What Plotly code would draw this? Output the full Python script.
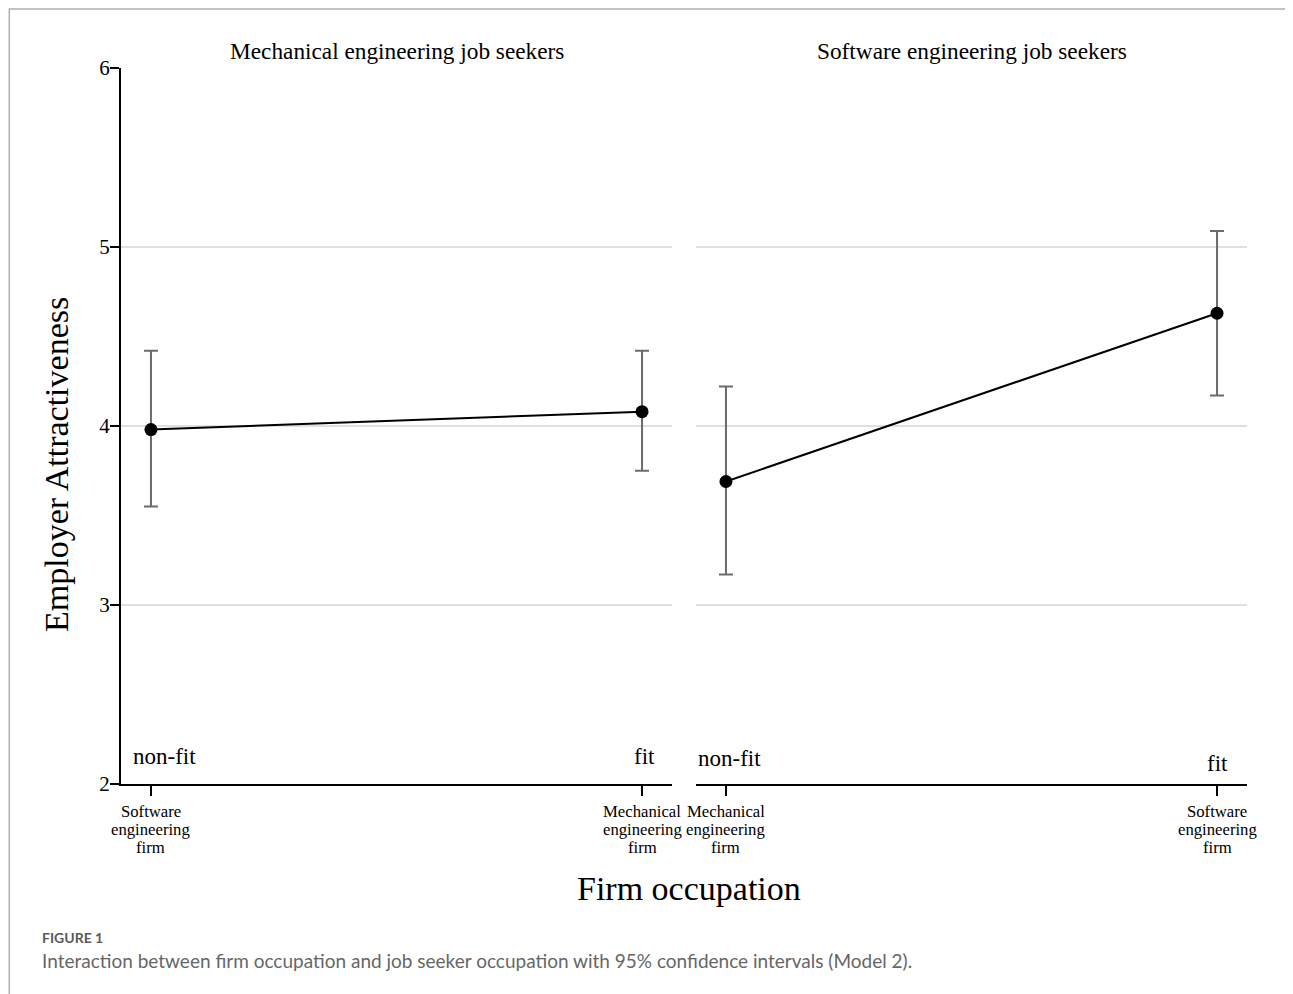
import plotly.graph_objects as go

W, H = 1293, 994
OFF = 8  # page body margin

# ---- data ----
panels = ["Mechanical engineering job seekers", "Software engineering job seekers"]
firm_labels_left = ["Software<br>engineering<br>firm", "Mechanical<br>engineering<br>firm"]
firm_labels_right = ["Mechanical<br>engineering<br>firm", "Software<br>engineering<br>firm"]
fit_labels = ["non-fit", "fit"]
mech_mean = [3.98, 4.08]
mech_low = [3.55, 3.75]
mech_high = [4.42, 4.42]
soft_mean = [3.69, 4.63]
soft_low = [3.17, 4.17]
soft_high = [4.22, 5.09]
y_ticks = [2, 3, 4, 5, 6]

SERIF = "Liberation Serif"


def px_x(p):
    return (p - OFF) / W


def px_y(p):
    return 1 - (p - OFF) / H


fig = go.Figure()

for i, (mean, lo, hi) in enumerate([(mech_mean, mech_low, mech_high),
                                    (soft_mean, soft_low, soft_high)]):
    fig.add_trace(go.Scatter(
        x=[0, 1], y=mean,
        mode="lines+markers",
        line=dict(color="black", width=2),
        marker=dict(color="black", size=13),
        error_y=dict(type="data", symmetric=False,
                     array=[h - m for h, m in zip(hi, mean)],
                     arrayminus=[m - l for m, l in zip(mean, lo)],
                     color="#6b6b6b", thickness=2, width=7),
        xaxis="x" if i == 0 else "x2",
        yaxis="y" if i == 0 else "y2",
        showlegend=False,
        hoverinfo="skip",
    ))

xr = [-0.061, 1.061]
ydom = [px_y(784), px_y(68)]
axis_common = dict(range=xr, tickvals=[0, 1], ticks="outside", ticklen=10,
                   tickwidth=2, tickcolor="black", showline=True, linecolor="black",
                   linewidth=2, showgrid=False, zeroline=False, showticklabels=False,
                   automargin=False)

fig.update_layout(
    width=W, height=H,
    margin=dict(l=0, r=0, t=0, b=0),
    paper_bgcolor="white", plot_bgcolor="white",
    xaxis=dict(domain=[px_x(121), px_x(672)], anchor="y", **axis_common),
    xaxis2=dict(domain=[px_x(696), px_x(1247)], anchor="y2", **axis_common),
    yaxis=dict(domain=ydom, range=[2, 6], tickvals=y_ticks, ticks="outside", ticklen=9,
               tickwidth=2, tickcolor="black", showline=True, linecolor="black", linewidth=2,
               showgrid=True, gridcolor="#e0e0e0", gridwidth=2, zeroline=False, automargin=False,
               ticklabelstandoff=-4,
               tickfont=dict(family=SERIF, size=21, color="black"), anchor="x"),
    yaxis2=dict(domain=ydom, range=[2, 6], tickvals=y_ticks, showticklabels=False,
                ticks="", showline=False, showgrid=True, gridcolor="#e0e0e0", gridwidth=2,
                zeroline=False, anchor="x2", automargin=False),
)

ann = []
# category tick labels, line by line (tight line spacing)
LINE = 18
for ax, labels in (("x", firm_labels_left), ("x2", firm_labels_right)):
    for xv, lab in zip([0, 1], labels):
        for k, line in enumerate(lab.split("<br>")):
            ann.append(dict(text=line, x=xv, xref=ax, y=px_y(811 + k * LINE), yref="paper",
                            showarrow=False, xanchor="center", yanchor="middle",
                            font=dict(family=SERIF, size=16.7, color="black")))
# panel titles
for i, t in enumerate(panels):
    cx = (121 + 672) / 2 if i == 0 else (696 + 1247) / 2
    ann.append(dict(text=t, x=px_x(cx), y=px_y(51), xref="paper", yref="paper",
                    showarrow=False, font=dict(family=SERIF, size=23.3, color="black"),
                    xanchor="center", yanchor="middle"))
# fit labels
fit_font = dict(family=SERIF, size=23, color="black")
ann.append(dict(text=fit_labels[0], x=-0.041, y=2.151, xref="x", yref="y", xanchor="left",
                yanchor="middle", showarrow=False, font=fit_font))
ann.append(dict(text=fit_labels[1], x=1.004, y=2.151, xref="x", yref="y", xanchor="center",
                yanchor="middle", showarrow=False, font=fit_font))
ann.append(dict(text=fit_labels[0], x=-0.061, y=2.145, xref="x2", yref="y2", xanchor="left",
                yanchor="middle", showarrow=False, font=fit_font))
ann.append(dict(text=fit_labels[1], x=1.0, y=2.117, xref="x2", yref="y2", xanchor="center",
                yanchor="middle", showarrow=False, font=fit_font))
# axis titles
ann.append(dict(text="Employer Attractiveness", x=px_x(57), y=px_y(465), xref="paper", yref="paper",
                textangle=-90, showarrow=False, font=dict(family=SERIF, size=34, color="black"),
                xanchor="center", yanchor="middle"))
ann.append(dict(text="Firm occupation", x=px_x(689), y=px_y(888), xref="paper", yref="paper",
                showarrow=False, font=dict(family=SERIF, size=34, color="black"),
                xanchor="center", yanchor="middle"))
# caption
ann.append(dict(text="<b>FIGURE 1</b>", x=px_x(40), y=px_y(937), xref="paper", yref="paper",
                showarrow=False, font=dict(family="Lato", size=14, color="#5a5a5a"),
                xanchor="left", yanchor="middle"))
ann.append(dict(text="Interaction between firm occupation and job seeker occupation with 95% confidence intervals (Model 2).",
                x=px_x(40), y=px_y(960), xref="paper", yref="paper",
                showarrow=False, font=dict(family="Lato", size=19, color="#666666"),
                xanchor="left", yanchor="middle"))
fig.update_layout(annotations=ann)

fig.add_shape(type="rect", xref="paper", yref="paper",
              x0=0.001, x1=px_x(1290.5), y0=-0.05, y1=0.999,
              line=dict(color="#b0b0b0", width=1.5), fillcolor="rgba(0,0,0,0)")

fig.write_html("out.html")
